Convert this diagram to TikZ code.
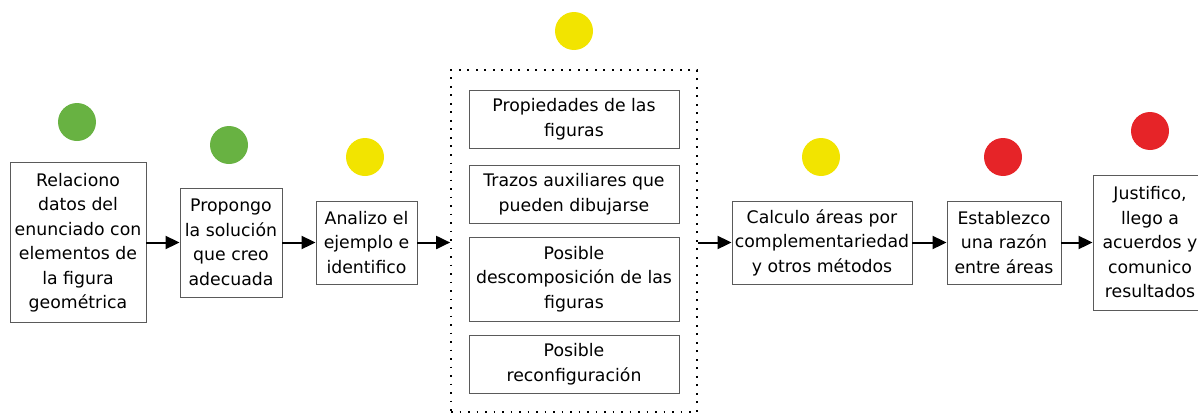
\documentclass[tikz,border=0pt]{standalone}
\usepackage{fontspec}
\setmainfont{DejaVu Sans}
\usetikzlibrary{arrows.meta}
\definecolor{cgreen}{RGB}{104,178,66}
\definecolor{cyellow}{RGB}{242,228,0}
\definecolor{cred}{RGB}{230,36,40}
\definecolor{boxgray}{RGB}{90,90,90}
\tikzset{
  stepbox/.style={draw=boxgray, line width=0.9pt, fill=white, inner sep=0pt, align=center,
    font=\fontsize{17.3}{24.5}\selectfont},
  dot/.style={circle, draw=none, minimum size=38pt, inner sep=0pt},
  flow/.style={line width=2pt, -{Triangle[length=14pt,width=13pt]}},
  groupbox/.style={draw=black, line width=1.7pt, dash pattern=on 1.7pt off 6.8pt, inner sep=0pt}
}
\begin{document}
\begin{tikzpicture}[x=1pt,y=-1pt]
\useasboundingbox (0,0) rectangle (1198,415);
% dotted group
\node[groupbox, minimum width=246pt, minimum height=342pt] (grp) at (574,241) {};
% boxes
\node[stepbox, minimum width=136pt, minimum height=160pt] (b1) at (78,242.5)
  {Relaciono\\datos del\\enunciado con\\elementos de\\la figura\\geométrica};
\node[stepbox, minimum width=102pt, minimum height=109pt] (b2) at (231,242.5)
  {Propongo\\la solución\\que creo\\adecuada};
\node[stepbox, minimum width=101pt, minimum height=83pt] (b3) at (366.5,242.5)
  {Analizo el\\ejemplo e\\identifico};
\node[stepbox, minimum width=210pt, minimum height=58pt] (g1) at (574,119)
  {Propiedades de las\\figuras};
\node[stepbox, minimum width=210pt, minimum height=58pt] (g2) at (574,194)
  {Trazos auxiliares que\\pueden dibujarse};
\node[stepbox, minimum width=210pt, minimum height=84pt] (g3) at (574,279)
  {Posible\\descomposición de las\\figuras};
\node[stepbox, minimum width=210pt, minimum height=58pt] (g4) at (574,364)
  {Posible\\reconfiguración};
\node[stepbox, minimum width=180pt, minimum height=83pt] (b5) at (822,242.5)
  {Calculo áreas por\\complementariedad\\y otros métodos};
\node[stepbox, minimum width=114pt, minimum height=83pt] (b6) at (1004,242.5)
  {Establezco\\una razón\\entre áreas};
\node[stepbox, minimum width=114pt, minimum height=135pt] (b7) at (1150,242.5)
  {Justifico,\\llego a\\acuerdos y\\comunico\\resultados};
% dots
\node[dot, fill=cgreen] (c1) at (77,122) {};
\node[dot, fill=cgreen] (c2) at (229,145) {};
\node[dot, fill=cyellow] (c3) at (365,157) {};
\node[dot, fill=cyellow] (c4) at (574,31) {};
\node[dot, fill=cyellow] (c5) at (821,157) {};
\node[dot, fill=cred] (c6) at (1003,157) {};
\node[dot, fill=cred] (c7) at (1150,131) {};
% arrows
\draw[flow] (b1.east) -- (b2.west);
\draw[flow] (b2.east) -- (b3.west);
\draw[flow] (b3.east) -- (b3.east -| grp.west);
\draw[flow] (grp.east |- b5.west) -- (b5.west);
\draw[flow] (b5.east) -- (b6.west);
\draw[flow] (b6.east) -- (b7.west);
\end{tikzpicture}
\end{document}
